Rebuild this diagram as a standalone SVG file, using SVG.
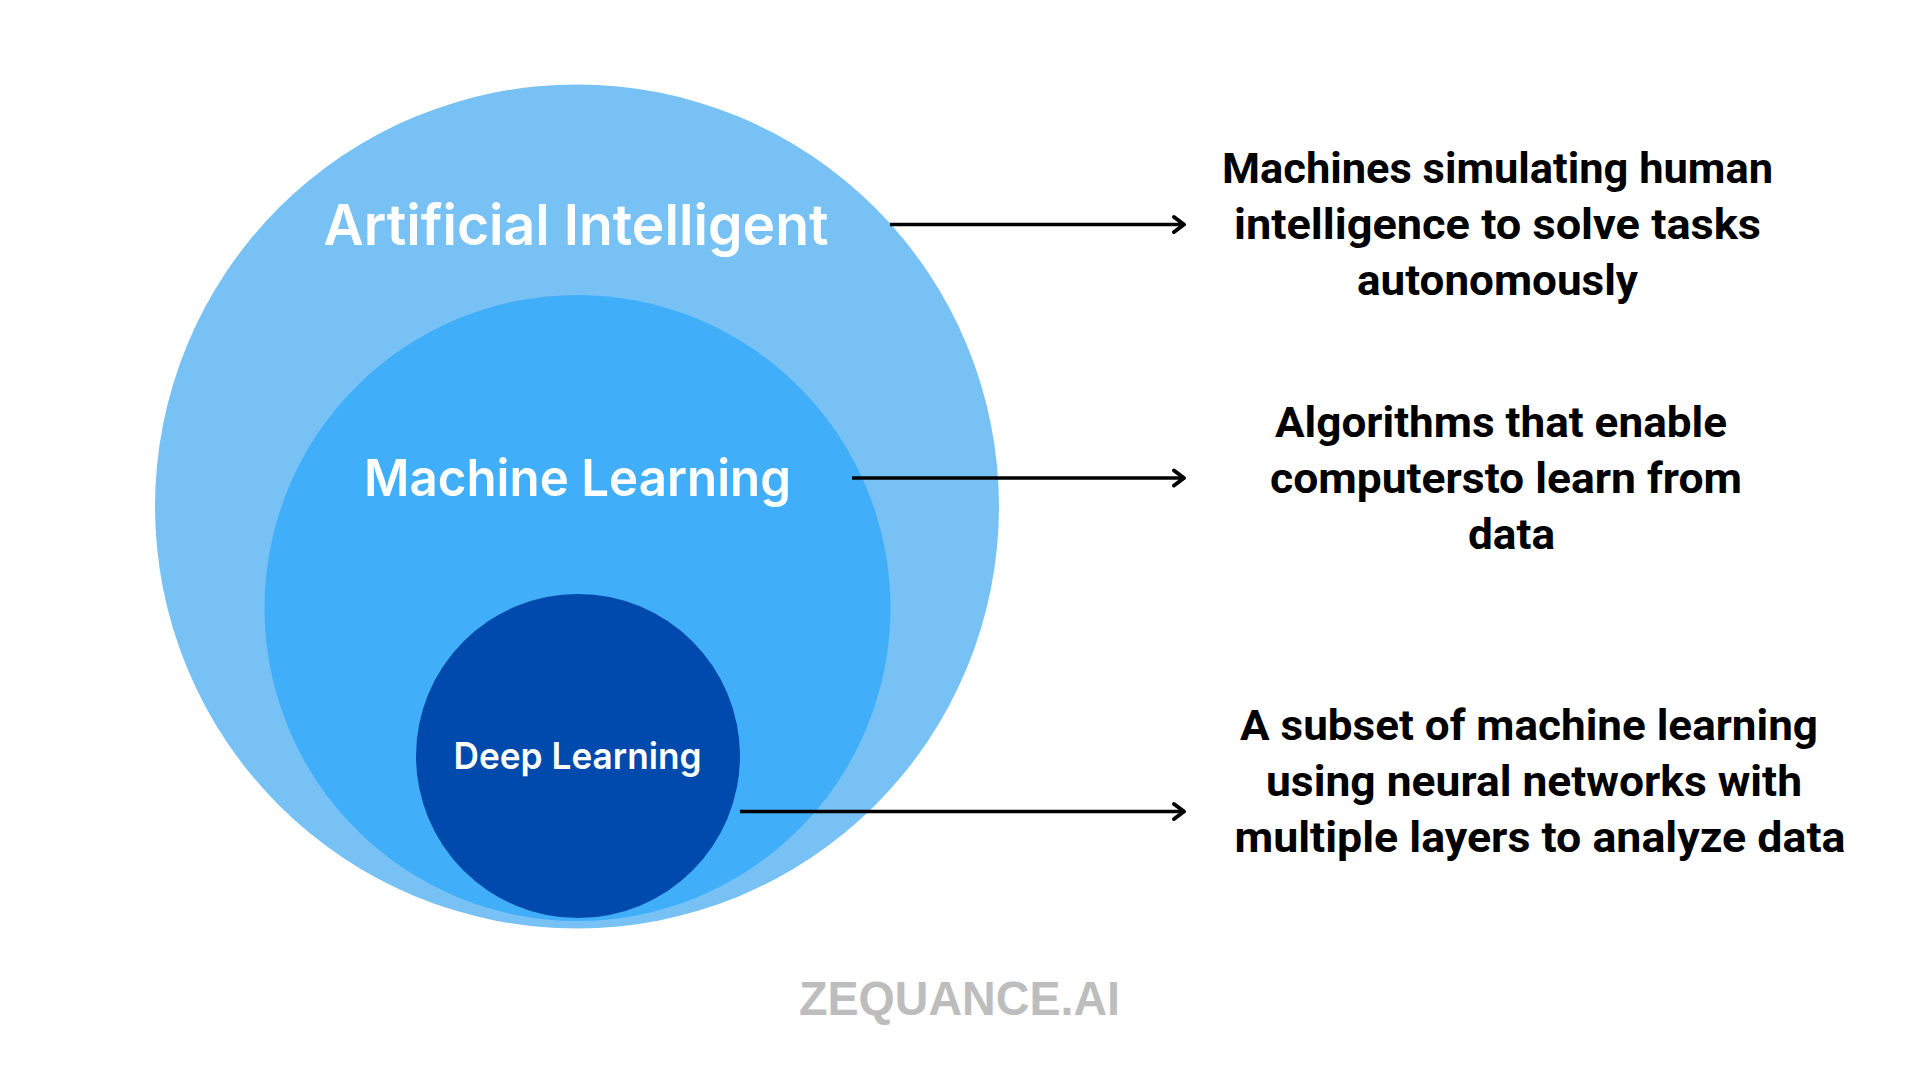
<svg xmlns="http://www.w3.org/2000/svg" width="1920" height="1080" viewBox="0 0 1920 1080">
<defs>
<style>
.lbl{font-family:Inter,"Open Sans","Liberation Sans",sans-serif;font-weight:600;fill:#ffffff;text-anchor:middle}
.desc{font-family:Roboto,"Liberation Sans",sans-serif;font-weight:700;font-size:42px;fill:#000000;text-anchor:middle}
.conn{stroke:#000000;stroke-width:3.5;fill:none}
</style>
<marker id="arr" markerUnits="userSpaceOnUse" markerWidth="30" markerHeight="30" refX="0" refY="0" viewBox="-15 -15 30 30" orient="auto" overflow="visible">
<path d="M-10,-7.5 L0,0 L-10,7.5" fill="none" stroke="#000000" stroke-width="4" stroke-linecap="round" stroke-linejoin="round"/>
</marker>
</defs>
<rect width="1920" height="1080" fill="#ffffff"/>
<g id="node-ai">
<circle cx="577" cy="506.5" r="422" fill="#77C1F5"/>
<text class="lbl" x="576" y="245" font-size="56" textLength="505" lengthAdjust="spacingAndGlyphs">Artificial Intelligent</text>
</g>
<g id="node-ml">
<circle cx="577.5" cy="608" r="313" fill="#40AEF9"/>
<text class="lbl" x="577.5" y="496" font-size="51" textLength="427" lengthAdjust="spacingAndGlyphs">Machine Learning</text>
</g>
<g id="node-dl">
<circle cx="578" cy="756" r="162" fill="#004AAD"/>
<text class="lbl" x="577.5" y="769" font-size="37" textLength="248" lengthAdjust="spacingAndGlyphs">Deep Learning</text>
</g>
<g id="connectors">
<line class="conn" x1="890" y1="224.5" x2="1184" y2="224.5" marker-end="url(#arr)"/>
<line class="conn" x1="852" y1="478" x2="1184" y2="478" marker-end="url(#arr)"/>
<line class="conn" x1="740" y1="811.5" x2="1184" y2="811.5" marker-end="url(#arr)"/>
</g>
<g id="desc-ai">
<text class="desc" x="1497.5" y="182.5" textLength="551" lengthAdjust="spacingAndGlyphs">Machines simulating human</text>
<text class="desc" x="1497.5" y="238.5" textLength="527" lengthAdjust="spacingAndGlyphs">intelligence to solve tasks</text>
<text class="desc" x="1497.5" y="294.5" textLength="281" lengthAdjust="spacingAndGlyphs">autonomously</text>
</g>
<g id="desc-ml">
<text class="desc" x="1501" y="436.5" textLength="452" lengthAdjust="spacingAndGlyphs">Algorithms that enable</text>
<text class="desc" x="1506" y="492.5" textLength="472" lengthAdjust="spacingAndGlyphs">computersto learn from</text>
<text class="desc" x="1511.5" y="548.5" textLength="87" lengthAdjust="spacingAndGlyphs">data</text>
</g>
<g id="desc-dl">
<text class="desc" x="1529" y="740" textLength="578" lengthAdjust="spacingAndGlyphs">A subset of machine learning</text>
<text class="desc" x="1534" y="796" textLength="536" lengthAdjust="spacingAndGlyphs">using neural networks with</text>
<text class="desc" x="1540" y="852" textLength="611" lengthAdjust="spacingAndGlyphs">multiple layers to analyze data</text>
</g>
<g id="watermark">
<text x="959.5" y="1015" font-family="'Liberation Sans',Arial,sans-serif" font-weight="700" font-size="48" fill="#BDBDBD" text-anchor="middle" textLength="321" lengthAdjust="spacingAndGlyphs">ZEQUANCE.AI</text>
</g>
</svg>
